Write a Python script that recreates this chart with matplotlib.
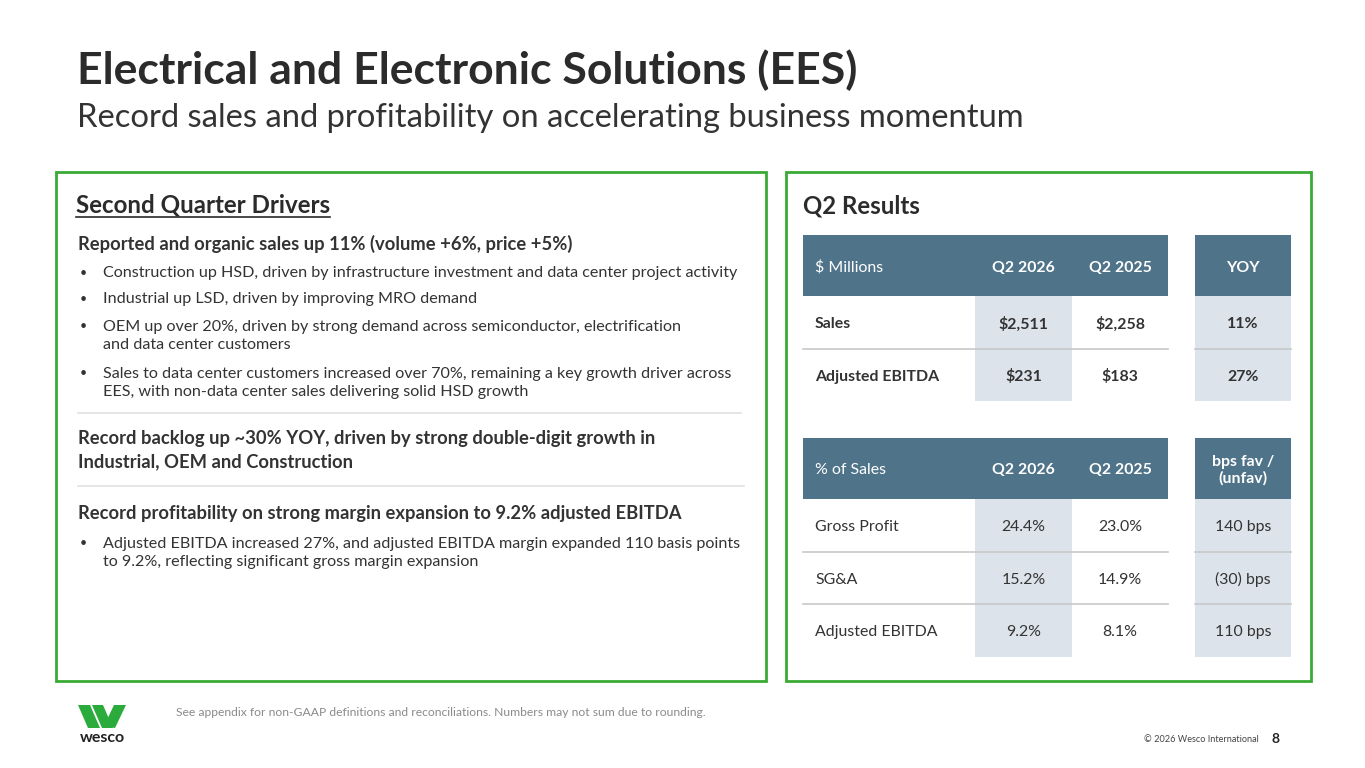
import matplotlib.pyplot as plt
from matplotlib.patches import Rectangle, Polygon

plt.rcParams['font.family'] = ['Lato', 'DejaVu Sans']

# ---- data ----
title = 'Electrical and Electronic Solutions (EES)'
subtitle = 'Record sales and profitability on accelerating business momentum'

drivers_head1 = 'Reported and organic sales up 11% (volume +6%, price +5%)'
drivers_bul1 = ['Construction up HSD, driven by infrastructure investment and data center project activity',
                'Industrial up LSD, driven by improving MRO demand',
                'OEM up over 20%, driven by strong demand across semiconductor, electrification\nand data center customers',
                'Sales to data center customers increased over 70%, remaining a key growth driver across\nEES, with non-data center sales delivering solid HSD growth']
drivers_head2 = 'Record backlog up ~30% YOY, driven by strong double-digit growth in\nIndustrial, OEM and Construction'
drivers_head3 = 'Record profitability on strong margin expansion to 9.2% adjusted EBITDA'
drivers_bul3 = ['Adjusted EBITDA increased 27%, and adjusted EBITDA margin expanded 110 basis points\nto 9.2%, reflecting significant gross margin expansion']

t1_cols = ['$ Millions', 'Q2 2026', 'Q2 2025', 'YOY']
t1_rows = ['Sales', 'Adjusted EBITDA']
t1_q2_2026 = ['$2,511', '$231']
t1_q2_2025 = ['$2,258', '$183']
t1_yoy = ['11%', '27%']

t2_cols = ['% of Sales', 'Q2 2026', 'Q2 2025', 'bps fav /\n(unfav)']
t2_rows = ['Gross Profit', 'SG&A', 'Adjusted EBITDA']
t2_q2_2026 = ['24.4%', '15.2%', '9.2%']
t2_q2_2025 = ['23.0%', '14.9%', '8.1%']
t2_bps = ['140 bps', '(30) bps', '110 bps']

footnote = 'See appendix for non-GAAP definitions and reconciliations. Numbers may not sum due to rounding.'
copyright_txt = '\u00a9 2026 Wesco International'
page_no = '8'

# ---- style ----
GREEN = '#3aaa35'
HEAD = '#4f7389'
SHADE = '#dce3ea'
TXT = '#333333'
LINE = '#c8c8c8'

fig = plt.figure(figsize=(13.65, 7.68), dpi=100)
ax = fig.add_axes([0, 0, 1, 1])
ax.set_xlim(0, 1365)
ax.set_ylim(768, 0)
ax.axis('off')


def txt(x, y, s, **kw):
    kw.setdefault('color', TXT)
    kw.setdefault('va', 'center')
    return ax.text(x, y, s, parse_math=False, **kw)


# titles
txt(77, 70, title, fontsize=32, fontweight='bold', color='#2b2b2b')
txt(77, 118, subtitle, fontsize=23.6, color='#333333')

# boxes
ax.add_patch(Rectangle((56, 172), 710, 509, fill=False, ec=GREEN, lw=2))
ax.add_patch(Rectangle((786, 172), 525, 509, fill=False, ec=GREEN, lw=2))

# left panel
t = txt(76, 205, 'Second Quarter Drivers', fontsize=17.4, fontweight='bold', color='#2b2b2b')
fig.canvas.draw()
bb = t.get_window_extent().transformed(ax.transData.inverted())
ax.plot([bb.x0, bb.x1], [217, 217], color='#2b2b2b', lw=1.2)

txt(78, 244, drivers_head1, fontsize=13.2, fontweight='bold')
bul_y = [273, 299, 336, 383]
for y, s in zip(bul_y, drivers_bul1):
    txt(80, y if '\n' not in s else y - 10, '\u2022', fontsize=9)
    txt(103, y, s, fontsize=11.6, linespacing=1.45)
ax.plot([78, 741], [413, 413], color='#e2e2e2', lw=1.2)
txt(78, 450, drivers_head2, fontsize=13.2, fontweight='bold', linespacing=1.4)
ax.plot([78, 744], [486, 486], color='#e2e2e2', lw=1.2)
txt(78, 514, drivers_head3, fontsize=13.2, fontweight='bold')
txt(80, 543, '\u2022', fontsize=9)
txt(103, 553, drivers_bul3[0], fontsize=11.6, linespacing=1.45)

# right panel
txt(803, 206, 'Q2 Results', fontsize=17.3, fontweight='bold', color='#2b2b2b')

col_x = [803, 975, 1072, 1195]
col_w = [172, 97, 96, 96]
col_cx = [815] + [col_x[i] + col_w[i] / 2 for i in range(1, 4)]


def table(top, cols, rows, c1, c2, c3, bold):
    hh, rh = 61, 52.5
    n = len(rows)
    ax.add_patch(Rectangle((col_x[0], top), col_x[2] + col_w[2] - col_x[0], hh, color=HEAD, lw=0))
    ax.add_patch(Rectangle((col_x[3], top), col_w[3], hh, color=HEAD, lw=0))
    for j in (1, 3):
        ax.add_patch(Rectangle((col_x[j], top + hh), col_w[j], rh * n, color=SHADE, lw=0))
    for j, c in enumerate(cols):
        txt(col_cx[j], top + hh / 2 + 2, c, fontsize=11.4, color='white',
            fontweight='normal' if j == 0 else 'bold', ha='left' if j == 0 else 'center',
            linespacing=1.15)
    w = 'bold' if bold else 'normal'
    for i in range(n):
        yc = top + hh + rh * (i + 0.5) + 2
        txt(col_cx[0], yc, rows[i], fontsize=11.4, fontweight=w)
        txt(col_cx[1], yc, c1[i], fontsize=11.4, fontweight=w, ha='center')
        txt(col_cx[2], yc, c2[i], fontsize=11.4, fontweight=w, ha='center')
        txt(col_cx[3], yc, c3[i], fontsize=11.4, fontweight=w, ha='center')
        if i < n - 1:
            yl = top + hh + rh * (i + 1)
            ax.plot([col_x[0], col_x[2] + col_w[2]], [yl, yl], color=LINE, lw=1.2)
            ax.plot([col_x[3], col_x[3] + col_w[3]], [yl, yl], color=LINE, lw=1.2)


table(235, t1_cols, t1_rows, t1_q2_2026, t1_q2_2025, t1_yoy, True)
table(438, t2_cols, t2_rows, t2_q2_2026, t2_q2_2025, t2_bps, False)

# footer
txt(176, 712, footnote, fontsize=8.75, color='#8a8a8a')
txt(1259, 740, copyright_txt, fontsize=6.6, color='#444444', ha='right')
txt(1276, 739, page_no, fontsize=10, fontweight='bold', color='#222222', ha='center')

# logo
logo = [[(78, 705), (90, 705), (100, 728), (88, 728)],
        [(92, 705), (103, 705), (113, 728), (102, 728)],
        [(104, 726), (114, 705), (126, 705), (115, 728)]]
for p in logo:
    ax.add_patch(Polygon(p, closed=True, color='#2bab3b', lw=0))
txt(102, 738, 'wesco', fontsize=11.5, fontweight='bold', color='#222222', ha='center')

fig.savefig('out.png', dpi=100)
